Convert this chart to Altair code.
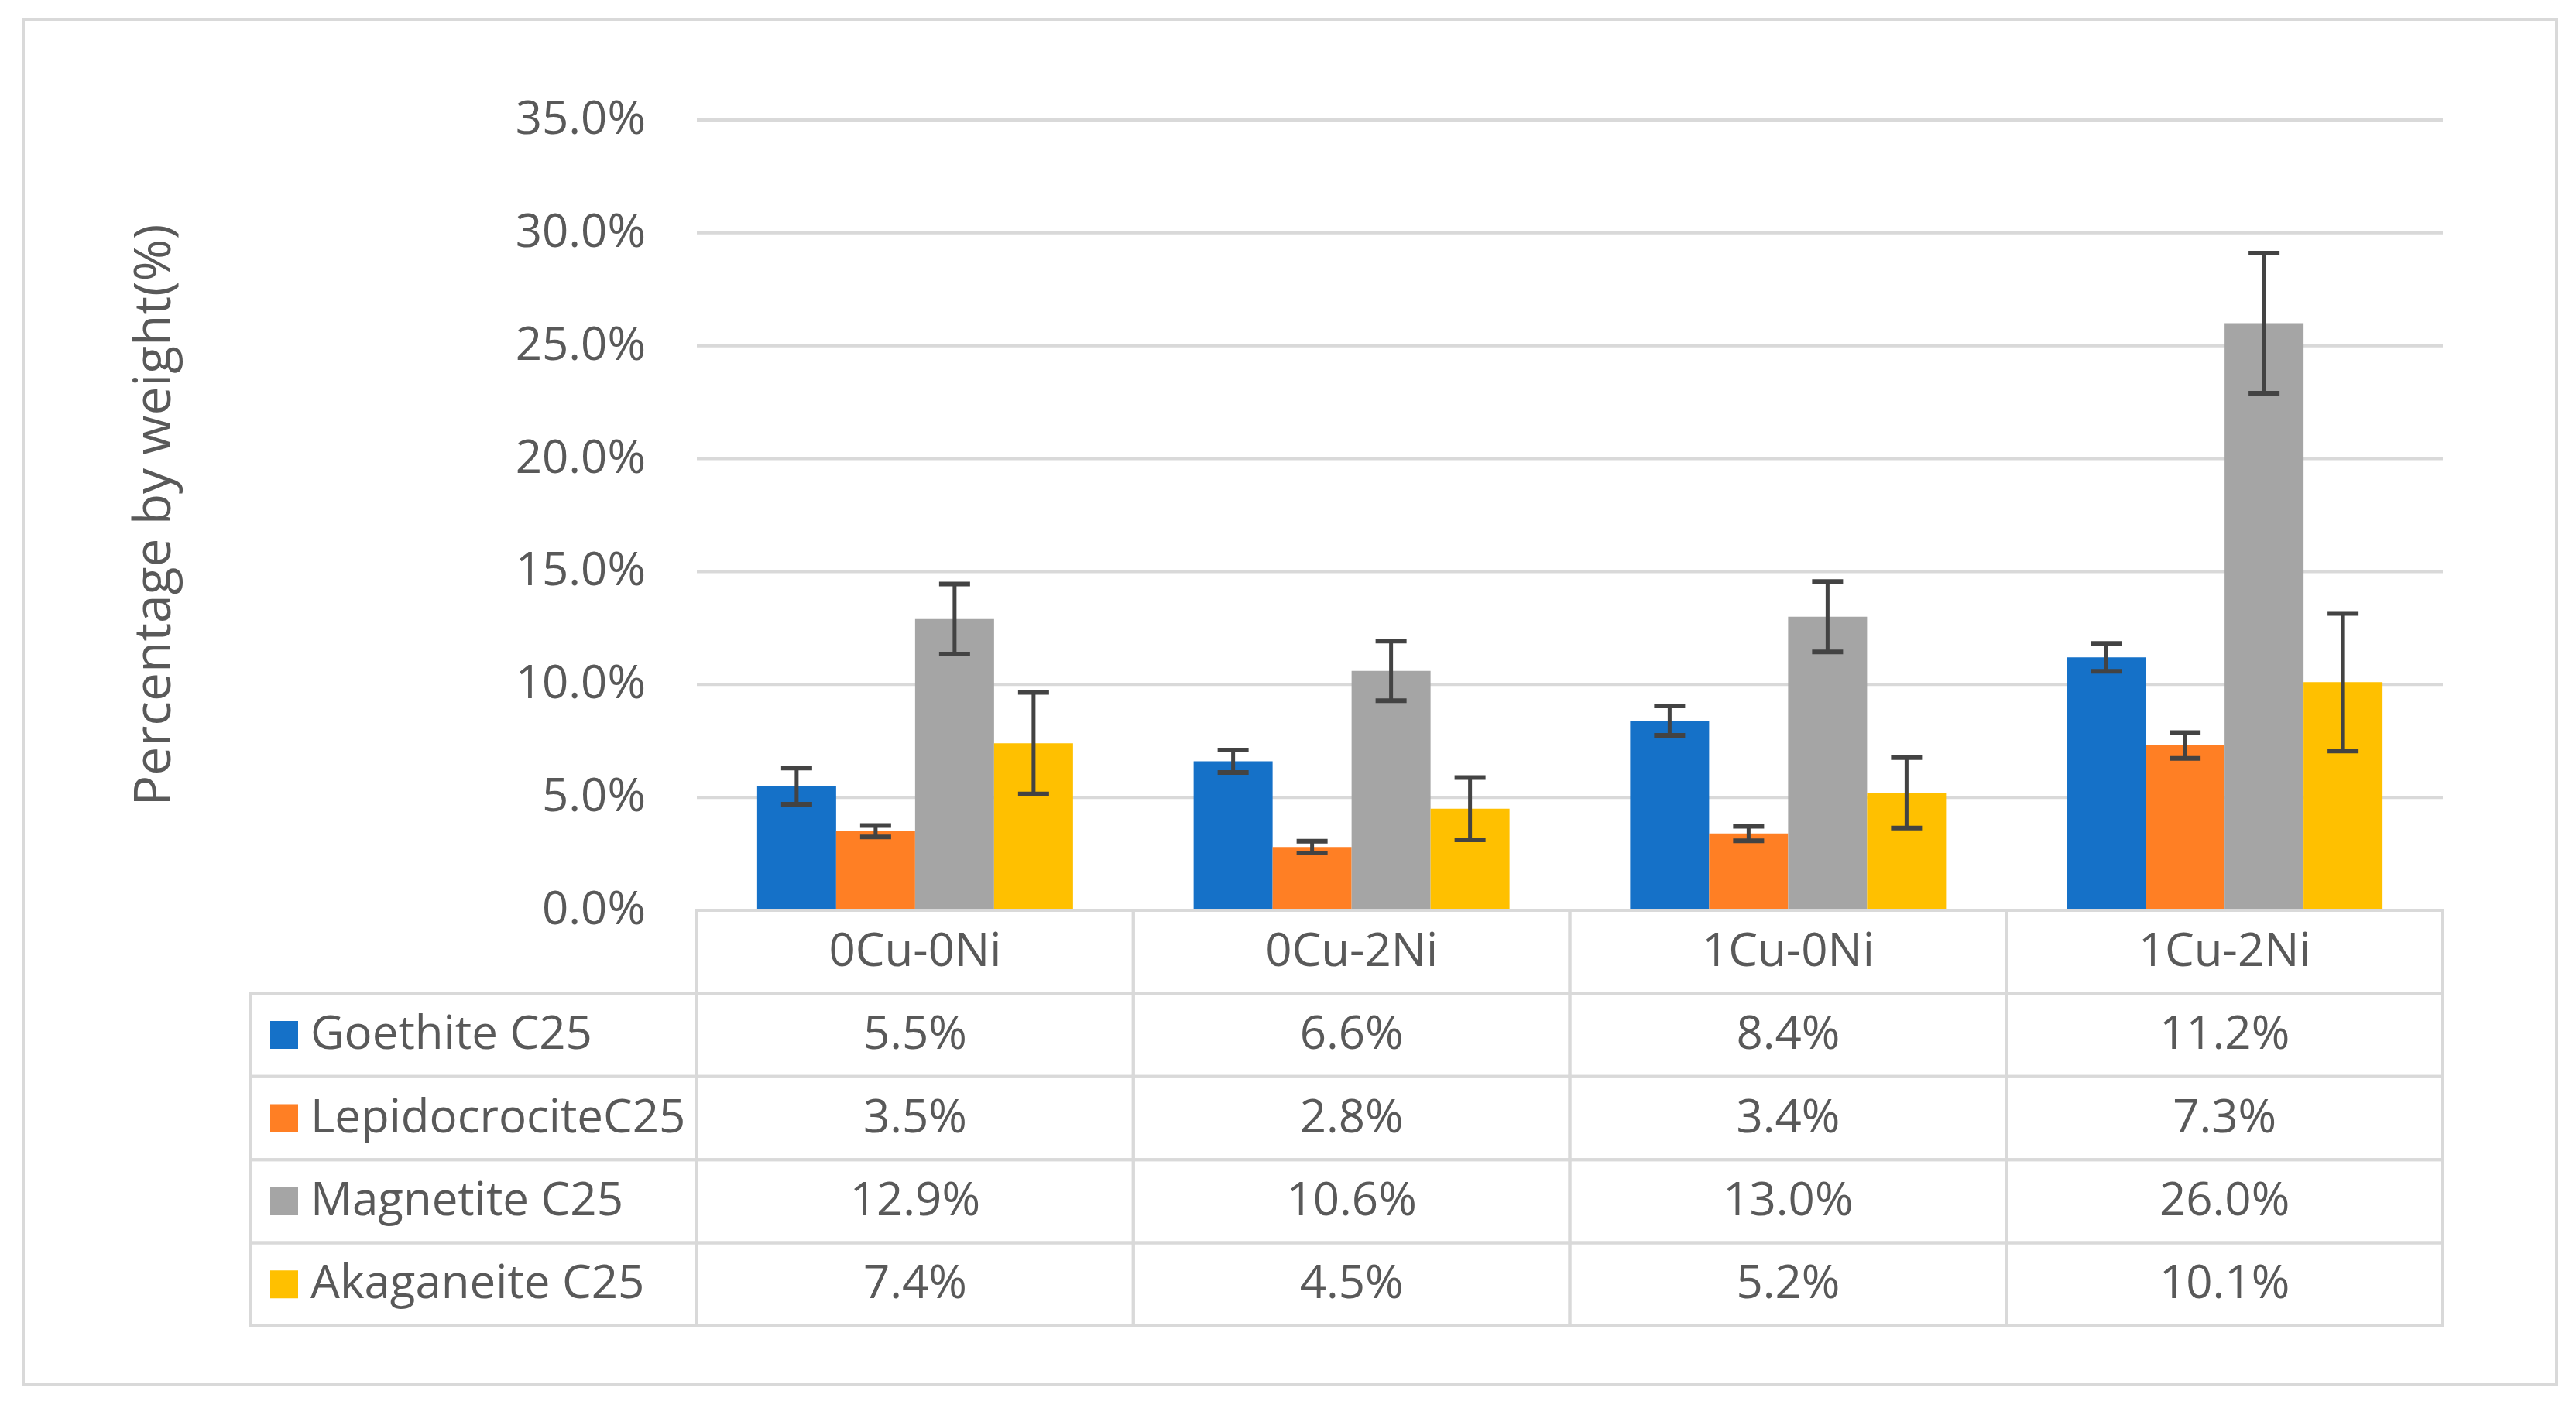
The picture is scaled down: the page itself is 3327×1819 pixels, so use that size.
import altair as alt
import pandas as pd

# ---------------- data ----------------
categories = ["0Cu-0Ni", "0Cu-2Ni", "1Cu-0Ni", "1Cu-2Ni"]
series = ["Goethite C25", "LepidocrociteC25", "Magnetite C25", "Akaganeite C25"]
goethite = [5.5, 6.6, 8.4, 11.2]
lepidocrocite = [3.5, 2.8, 3.4, 7.3]
magnetite = [12.9, 10.6, 13.0, 26.0]
akaganeite = [7.4, 4.5, 5.2, 10.1]
goethite_err = [0.80, 0.50, 0.65, 0.62]
lepidocrocite_err = [0.25, 0.26, 0.32, 0.57]
magnetite_err = [1.55, 1.32, 1.56, 3.10]
akaganeite_err = [2.25, 1.38, 1.56, 3.05]
y_ticks = [0, 5, 10, 15, 20, 25, 30, 35]
y_tick_labels = ["0.0%", "5.0%", "10.0%", "15.0%", "20.0%", "25.0%", "30.0%", "35.0%"]
y_title = "Percentage by weight(%)"

# ---------------- styles ----------------
colors = ["#1571C8", "#FF7F24", "#A5A5A5", "#FFC000"]
grid_color = "#D9D9D9"
text_color = "#595959"
err_color = "#434343"
FONT = "Open Sans"

# ---------------- layout (plot-area pixels) ----------------
W, H = 3272, 1764
COL_LEFT = 870.0
COL_STEP = 563.75
BASE_Y = 1151.0
TOP_Y = 130.0
ROW_H = 107.4
LABEL_LEFT = 293.0
SQUARE_CX = 337.0
LABEL_TEXT_X = 371.0
YLABEL_DX = -66
TITLE_X = 170.0
GROUP_W = 408.0


def u(px):
    return (px - COL_LEFT) / COL_STEP


n = len(categories)
col_scale = alt.Scale(domain=[u(0), u(W)], nice=False, zero=False)
pct_per_px = (y_ticks[-1] - y_ticks[0]) / (BASE_Y - TOP_Y)
pct_scale = alt.Scale(domain=[(BASE_Y - H) * pct_per_px, BASE_Y * pct_per_px], nice=False, zero=False)
row_scale = alt.Scale(domain=[-BASE_Y / ROW_H, (H - BASE_Y) / ROW_H], reverse=True, nice=False, zero=False)

p_in = 1 - GROUP_W / COL_STEP
band_scale = alt.Scale(domain=categories, range=[COL_LEFT, COL_LEFT + n * COL_STEP],
                       paddingInner=p_in, paddingOuter=p_in / 2)
offset_scale = alt.Scale(domain=series, paddingInner=0, paddingOuter=0)
color_scale = alt.Scale(domain=series, range=colors)

# ---------------- tables ----------------
values = [goethite, lepidocrocite, magnetite, akaganeite]
errors = [goethite_err, lepidocrocite_err, magnetite_err, akaganeite_err]
rows = []
for i, s in enumerate(series):
    for j, c in enumerate(categories):
        v = values[i][j]
        e = errors[i][j]
        rows.append(dict(series=s, category=c, value=v, lo=v - e, hi=v + e,
                         label=f"{v:.1f}%", col=j, col1=j + 1, colc=j + 0.5,
                         row=i + 1, row1=i + 2, rowc=i + 1.5))
df = pd.DataFrame(rows)
caps = pd.concat([df.assign(cap=df["lo"]), df.assign(cap=df["hi"])])

grid_df = pd.DataFrame({"tick": y_ticks, "text": y_tick_labels,
                        "x0": [0] * len(y_ticks), "x1": [n] * len(y_ticks)})
header_df = pd.DataFrame({"category": categories, "col": list(range(n)),
                          "col1": [j + 1 for j in range(n)], "colc": [j + 0.5 for j in range(n)],
                          "row": [0] * n, "row1": [1] * n, "rowc": [0.5] * n})
legend_df = pd.DataFrame({"series": series,
                          "x0": [u(LABEL_LEFT)] * len(series), "x1": [0] * len(series),
                          "xs": [u(SQUARE_CX)] * len(series), "xt": [u(LABEL_TEXT_X)] * len(series),
                          "row": [i + 1 for i in range(len(series))],
                          "row1": [i + 2 for i in range(len(series))],
                          "rowc": [i + 1.5 for i in range(len(series))]})
title_df = pd.DataFrame({"x": [u(TITLE_X)], "y": [(y_ticks[0] + y_ticks[-1]) / 2], "text": [y_title]})

# ---------------- layers ----------------
grid = alt.Chart(grid_df).mark_rule(color=grid_color, strokeWidth=4).encode(
    x=alt.X("x0:Q", scale=col_scale, axis=None), x2="x1:Q",
    y=alt.Y("tick:Q", scale=pct_scale, axis=None))

ylabels = alt.Chart(grid_df).mark_text(align="right", baseline="middle", dx=YLABEL_DX,
                                       font=FONT, fontSize=60, color=text_color).encode(
    x=alt.X("x0:Q", scale=col_scale, axis=None),
    y=alt.Y("tick:Q", scale=pct_scale, axis=None), text="text:N")

ytitle = alt.Chart(title_df).mark_text(angle=270, align="center", baseline="middle",
                                       font=FONT, fontSize=66, color=text_color).encode(
    x=alt.X("x:Q", scale=col_scale, axis=None),
    y=alt.Y("y:Q", scale=pct_scale, axis=None), text="text:N")

xb = alt.X("category:N", scale=band_scale, axis=None, sort=categories)
xo = alt.XOffset("series:N", scale=offset_scale, sort=series)

bars = alt.Chart(df).mark_bar().encode(
    x=xb, xOffset=xo,
    y=alt.Y("value:Q", scale=pct_scale, axis=None, stack=None),
    y2=alt.datum(0),
    color=alt.Color("series:N", scale=color_scale, legend=None))

err_rules = alt.Chart(df).mark_rule(color=err_color, strokeWidth=5).encode(
    x=xb, xOffset=xo,
    y=alt.Y("lo:Q", scale=pct_scale, axis=None), y2="hi:Q")

err_caps = alt.Chart(caps).mark_tick(color=err_color, thickness=6, size=40, opacity=1).encode(
    x=xb, xOffset=xo,
    y=alt.Y("cap:Q", scale=pct_scale, axis=None))

cell_style = dict(fill="transparent", stroke=grid_color, strokeWidth=4)
value_cells = alt.Chart(df).mark_rect(**cell_style).encode(
    x=alt.X("col:Q", scale=col_scale, axis=None), x2="col1:Q",
    y=alt.Y("row:Q", scale=row_scale, axis=None), y2="row1:Q")
header_cells = alt.Chart(header_df).mark_rect(**cell_style).encode(
    x=alt.X("col:Q", scale=col_scale, axis=None), x2="col1:Q",
    y=alt.Y("row:Q", scale=row_scale, axis=None), y2="row1:Q")
legend_cells = alt.Chart(legend_df).mark_rect(**cell_style).encode(
    x=alt.X("x0:Q", scale=col_scale, axis=None), x2="x1:Q",
    y=alt.Y("row:Q", scale=row_scale, axis=None), y2="row1:Q")

txt = dict(font=FONT, fontSize=60, color=text_color, baseline="middle")
value_text = alt.Chart(df).mark_text(align="center", **txt).encode(
    x=alt.X("colc:Q", scale=col_scale, axis=None),
    y=alt.Y("rowc:Q", scale=row_scale, axis=None), text="label:N")
header_text = alt.Chart(header_df).mark_text(align="center", **txt).encode(
    x=alt.X("colc:Q", scale=col_scale, axis=None),
    y=alt.Y("rowc:Q", scale=row_scale, axis=None), text="category:N")
legend_text = alt.Chart(legend_df).mark_text(align="left", **txt).encode(
    x=alt.X("xt:Q", scale=col_scale, axis=None),
    y=alt.Y("rowc:Q", scale=row_scale, axis=None), text="series:N")
legend_sq = alt.Chart(legend_df).mark_square(size=1296, opacity=1, filled=True).encode(
    x=alt.X("xs:Q", scale=col_scale, axis=None),
    y=alt.Y("rowc:Q", scale=row_scale, axis=None),
    color=alt.Color("series:N", scale=color_scale, legend=None))

chart = alt.layer(
    grid, ylabels, ytitle, bars, err_rules, err_caps,
    value_cells, header_cells, legend_cells,
    value_text, header_text, legend_text, legend_sq,
).resolve_scale(x="independent", y="independent").properties(
    width=W, height=H,
    padding={"left": 22, "top": 17, "right": 17, "bottom": 17},
    background="#FFFFFF",
).configure_view(stroke=grid_color, strokeWidth=4)

chart.save("out.html", embed_options={"renderer": "svg", "actions": False})
